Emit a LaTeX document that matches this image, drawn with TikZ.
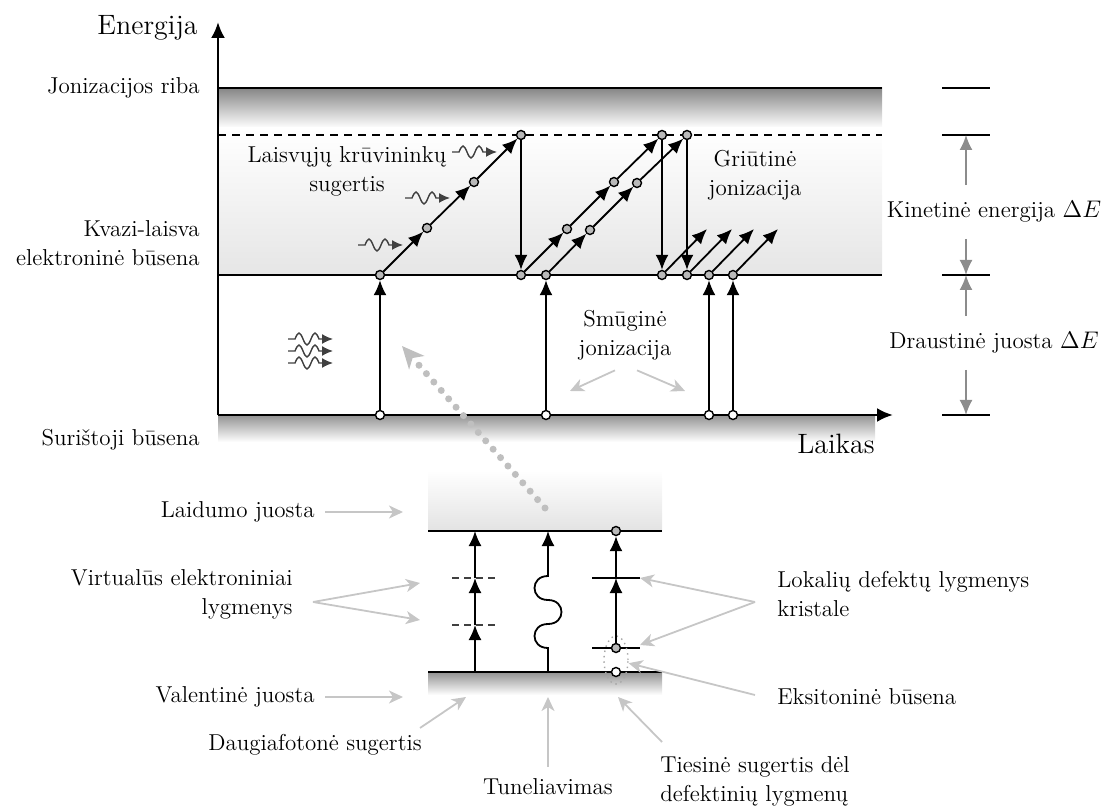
\documentclass[tikz,border=0pt]{standalone}
\usepackage{fontspec}
\usetikzlibrary{arrows.meta, positioning, calc, shapes.geometric}

\tikzset{
  txt/.style={font=\fontsize{11.5}{14.5}\selectfont, inner sep=1pt},
  big/.style={font=\fontsize{14}{17}\selectfont, inner sep=1pt},
  band/.style={line width=1.3pt},
  lvl/.style={line width=0.9pt},
  vlvl/.style={line width=0.9pt, black!75, dash pattern=on 3.5pt off 2.5pt},
  el/.style={circle, draw, line width=0.7pt, fill=gray!55, inner sep=0pt, minimum size=4.5pt},
  hole/.style={el, fill=white},
  tr/.style={line width=0.9pt, -{Latex[length=7.5pt,width=6.5pt]}},
  note/.style={draw=gray!45, line width=0.9pt, -{Stealth[length=7pt,width=6.5pt,inset=2pt]}},
  gap/.style={draw=black!45, line width=0.9pt, -{Latex[length=7.5pt,width=6.5pt]}},
  photon/.pic={
    \draw[black!75, line width=0.7pt, -{Latex[length=5.5pt,width=5pt]}]
      (0,0) -- (7,0) sin (11,-6) cos (15,0) sin (19,6) cos (23,0)
      sin (27,-6) cos (31,0) -- (45,0);
  }
}

\begin{document}
\begin{tikzpicture}[x=0.5pt, y=-0.5pt]
  \useasboundingbox (0,0) rectangle (1103,807);

  % quasi-free band and shadow under the bound state
  \shade[top color=gray!95, bottom color=white] (218,88) rectangle (882,128);
  \shade[top color=white, bottom color=gray!20] (218,128) rectangle (882,275);
  \shade[top color=gray!85, bottom color=white] (218,415) rectangle (875,442);

  % axes and levels
  \coordinate (O) at (218,415);
  \coordinate (Etop) at (218,22);
  \coordinate (Tend) at (893,415);
  \draw[band] (218,88) -- (882,88);
  \draw[band] (218,275) -- (882,275);
  \draw[line width=0.8pt, dash pattern=on 4pt off 3pt] (218,135) -- (882,135);
  \draw[band, -{Latex[length=8pt,width=7pt]}] (O) -- (Etop);
  \draw[band, -{Latex[length=8pt,width=7pt]}] (O) -- (Tend);

  \node[big, anchor=east] (energija) at (200,28) {Energija};
  \node[big] (laikas) at (836,444) {Laikas};
  \node[txt, anchor=east] (jonriba) at (202,88) {Jonizacijos riba};
  \node[txt, anchor=east, align=right] (kvazi) at (202,243) {Kvazi-laisva\\elektroninė būsena};
  \node[txt, anchor=east] (suristoji) at (202,440) {Surištoji būsena};

  % electrons
  \node[hole] (g1) at (380,415) {};
  \node[el] (q1) at (380,275) {};
  \node[el] (d1) at (427,228) {};
  \node[el] (d2) at (474,182) {};
  \node[el] (t1) at (521,135) {};
  \node[el] (b1) at (521,275) {};
  \node[el] (e1) at (567,229) {};
  \node[el] (e2) at (614,182) {};
  \node[el] (t2) at (662,135) {};
  \node[el] (b2) at (662,275) {};
  \node[hole] (g2) at (546,415) {};
  \node[el] (q2) at (546,275) {};
  \node[el] (f1) at (590,230) {};
  \node[el] (f2) at (637,183) {};
  \node[el] (t3) at (687,135) {};
  \node[el] (b3) at (687,275) {};
  \node[hole] (g3) at (709,415) {};
  \node[el] (q3) at (709,275) {};
  \node[hole] (g4) at (733,415) {};
  \node[el] (q4) at (733,275) {};

  \foreach \a/\b in {g1/q1, q1/d1, d1/d2, d2/t1, t1/b1,
                     b1/e1, e1/e2, e2/t2, t2/b2,
                     g2/q2, q2/f1, f1/f2, f2/t3, t3/b3,
                     g3/q3, g4/q4}
    \draw[tr] (\a) -- (\b);
  \foreach \n in {b2, b3, q3, q4} {
    \path (\n) ++(45,-46) coordinate (\n k);
    \draw[tr] (\n) -- (\n k);
  }

  % photons
  \pic at (358,245) {photon};
  \pic at (405,198) {photon};
  \pic at (452,152) {photon};
  \foreach \y in {339,351,363}
    \pic at (288,\y) {photon};

  \node[txt, align=center] (laisvuju) at (347,171) {Laisvųjų krūvininkų\\sugertis};
  \node[txt, align=center] (griutine) at (755,175) {Griūtinė\\jonizacija};
  \node[txt, align=center] (smugine) at (625,335) {Smūginė\\jonizacija};
  \coordinate (smL) at (570,391);
  \coordinate (smR) at (685,391);
  \draw[note] ([xshift=-5pt,yshift=-4pt]smugine.south) -- (smL);
  \draw[note] ([xshift=6pt,yshift=-4pt]smugine.south) -- (smR);

  % energy scale on the right
  \coordinate (m1) at (966,88);
  \coordinate (m2) at (966,135);
  \coordinate (m3) at (966,275);
  \coordinate (m4) at (966,415);
  \foreach \m in {m1,m2,m3,m4}
    \draw[lvl] ([xshift=-12pt]\m) -- ([xshift=12pt]\m);
  \node[txt] (kinetine) at (994,212) {Kinetinė energija $\Delta E$};
  \node[txt] (draustine) at (994,343) {Draustinė juosta $\Delta E$};
  \draw[gap, shorten <=7pt] (kinetine.north -| m2) -- (m2);
  \draw[gap, shorten <=7pt] (kinetine.south -| m3) -- (m3);
  \draw[gap, shorten <=7pt] (draustine.north -| m3) -- (m3);
  \draw[gap, shorten <=7pt] (draustine.south -| m4) -- (m4);

  % solid state: conduction and valence band
  \shade[top color=white, bottom color=gray!22] (428,470) rectangle (662,531);
  \shade[top color=gray!85, bottom color=white] (428,672) rectangle (662,695);
  \draw[band] (428,531) -- (662,531);
  \draw[band] (428,672) -- (662,672);

  % multiphoton absorption
  \coordinate (v0) at (475,672);
  \coordinate (v1) at (475,625);
  \coordinate (v2) at (475,578);
  \coordinate (v3) at (475,531);
  \draw[vlvl] (452,625) -- (499,625);
  \draw[vlvl] (452,578) -- (499,578);
  \draw[tr] (v0) -- (v1);
  \draw[tr] (v1) -- (v2);
  \draw[tr] (v2) -- (v3);

  % tunnelling
  \coordinate (w0) at (548,672);
  \coordinate (w1) at (548,531);
  \draw[tr] (w0) -- (548,648)
    .. controls (530,648) and (530,624) .. (548,624)
    .. controls (566,624) and (566,600) .. (548,600)
    .. controls (530,600) and (530,576) .. (548,576) -- (w1);

  % defect levels
  \draw[lvl] (592,578) -- (640,578);
  \draw[lvl] (592,648) -- (640,648);
  \node[ellipse, draw=gray!70, dotted, line width=0.7pt, minimum width=12pt,
        minimum height=24pt, inner sep=0pt] (exc) at (616,660) {};
  \node[hole] (x0) at (616,672) {};
  \node[el] (x1) at (616,648) {};
  \coordinate (x2) at (616,578);
  \node[el] (x3) at (616,531) {};
  \draw[tr] (x1) -- (x2);
  \draw[tr] (x2) -- (x3);

  % dotted arrow back to the upper picture
  \coordinate (dotS) at (545,508);
  \coordinate (dotE) at (402,346);
  \draw[gray!50, line width=3.5pt, line cap=round, dash pattern=on 0pt off 5.6pt,
        -{Stealth[length=11pt,width=10pt,inset=3pt]}] (dotS) -- (dotE);

  % labels of the lower picture
  \node[txt, anchor=east] (laidumo) at (317,512) {Laidumo juosta};
  \coordinate (laidumoT) at (403,512);
  \draw[note, shorten <=4pt] (laidumo.east) -- (laidumoT);

  \node[txt, anchor=east, align=right] (virtualus) at (295,594) {Virtualūs elektroniniai\\lygmenys};
  \coordinate (vsplit) at (313,602);
  \coordinate (vt1) at (420,583);
  \coordinate (vt2) at (420,620);
  \draw[note] (vsplit) -- (vt1);
  \draw[note] (vsplit) -- (vt2);

  \node[txt, anchor=east] (valentine) at (317,697) {Valentinė juosta};
  \coordinate (valentineT) at (403,697);
  \draw[note, shorten <=4pt] (valentine.east) -- (valentineT);

  \node[txt] (daugiaf) at (315,745) {Daugiafotonė sugertis};
  \coordinate (daugiafS) at (420,728);
  \coordinate (daugiafT) at (466,697);
  \draw[note] (daugiafS) -- (daugiafT);

  \node[txt] (tunel) at (548,787) {Tuneliavimas};
  \coordinate (tunelT) at (548,697);
  \draw[note, shorten <=5pt] (tunel.north) -- (tunelT);

  \node[txt, anchor=west, align=left] (tiesine) at (658,781) {Tiesinė sugertis dėl\\defektinių lygmenų};
  \coordinate (tiesineS) at (662,742);
  \coordinate (tiesineT) at (618,697);
  \draw[note] (tiesineS) -- (tiesineT);

  \node[txt, anchor=west, align=left] (lokaliu) at (775,594) {Lokalių defektų lygmenys\\kristale};
  \coordinate (lsplit) at (755,602);
  \coordinate (lt1) at (640,578);
  \coordinate (lt2) at (640,645);
  \draw[note] (lsplit) -- (lt1);
  \draw[note] (lsplit) -- (lt2);

  \node[txt, anchor=west] (eksiton) at (775,697) {Eksitoninė būsena};
  \coordinate (eksitonS) at (755,695);
  \draw[note] (eksitonS) -- (exc);
\end{tikzpicture}
\end{document}
